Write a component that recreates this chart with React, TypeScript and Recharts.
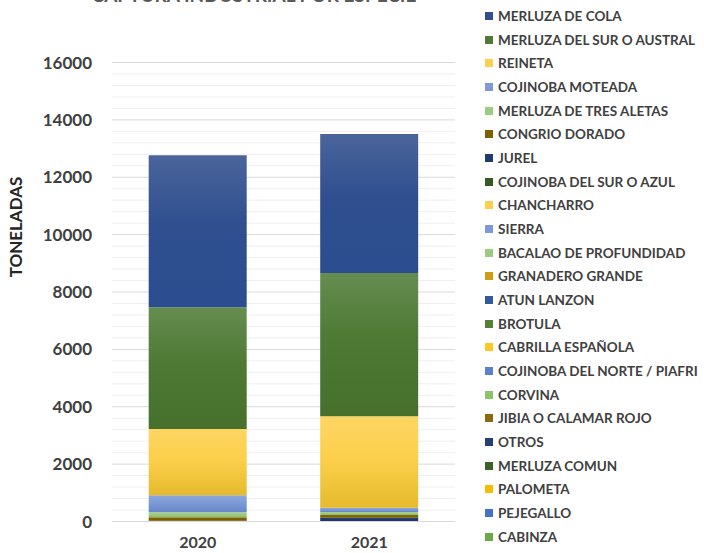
import { BarChart, Bar, XAxis, YAxis, CartesianGrid, Customized } from "recharts"

// series listed bottom of the stack -> top of the stack
const species = [
  "CABINZA",
  "PEJEGALLO",
  "PALOMETA",
  "MERLUZA COMUN",
  "OTROS",
  "JIBIA O CALAMAR ROJO",
  "CORVINA",
  "COJINOBA DEL NORTE / PIAFRI",
  "CABRILLA ESPAÑOLA",
  "BROTULA",
  "ATUN LANZON",
  "GRANADERO GRANDE",
  "BACALAO DE PROFUNDIDAD",
  "SIERRA",
  "CHANCHARRO",
  "COJINOBA DEL SUR O AZUL",
  "JUREL",
  "CONGRIO DORADO",
  "MERLUZA DE TRES ALETAS",
  "COJINOBA MOTEADA",
  "REINETA",
  "MERLUZA DEL SUR O AUSTRAL",
  "MERLUZA DE COLA",
]

const years = ["2020", "2021"]

const catch2020 = [0.1, 0.1, 0.1, 0.2, 1, 0.2, 0.3, 0.5, 0.5, 1, 1, 1, 2, 2, 3, 5, 6, 125, 175, 592, 2311, 4242, 5298]
const catch2021 = [0.2, 0.2, 0.3, 0.5, 1, 0.5, 0.8, 1, 1, 1.5, 1, 1, 1, 1, 1, 1, 120, 95, 105, 150, 3186, 4995, 4844]

const yTicks = [0, 2000, 4000, 6000, 8000, 10000, 12000, 14000, 16000]
const minorStep = 400

// [top, bottom, legend] colours, same order as species
const colors: [string, string, string][] = [
  ["#86c263", "#6aaa45", "#6aaa45"],
  ["#5a83d2", "#4472c4", "#4472c4"],
  ["#ffcb2a", "#f0b800", "#f5bd00"],
  ["#46702f", "#365e22", "#3b6326"],
  ["#2d4e87", "#213e70", "#263f78"],
  ["#9c7c20", "#84640a", "#8a6a10"],
  ["#9bd07b", "#7cbb56", "#8cc46a"],
  ["#7296da", "#4c74c6", "#5b82cf"],
  ["#ffd23a", "#f0be12", "#fcc824"],
  ["#5e8e3e", "#4e7e30", "#548235"],
  ["#3e62aa", "#2f5597", "#34599d"],
  ["#dba624", "#c59200", "#cf9c12"],
  ["#acd392", "#8cc06a", "#9bcb7e"],
  ["#8ca8dd", "#6686c8", "#7d9ad6"],
  ["#fdd562", "#e6ba2c", "#fcd04c"],
  ["#416629", "#33561f", "#375a24"],
  ["#28437c", "#1c3566", "#213a6e"],
  ["#8c6b12", "#785800", "#7f6000"],
  ["#abd290", "#8cc06a", "#9bcb7e"],
  ["#8ca8dd", "#6686c8", "#7d9ad6"],
  ["#fdd562", "#e6ba2c", "#fcd04c"],
  ["#668d50", "#46702b", "#4e7a35"],
  ["#4b659b", "#2b4d8f", "#2f4f8f"],
]

const data = years.map((year, i) => {
  const row: Record<string, string | number> = { year }
  const vals = i === 0 ? catch2020 : catch2021
  species.forEach((_, j) => {
    row[`s${j}`] = vals[j]
  })
  return row
})

const minorTicks: number[] = []
for (let v = minorStep; v < 16000; v += minorStep) {
  if (v % 2000 !== 0) minorTicks.push(v)
}

const font = "Lato, 'Open Sans', sans-serif"
const tickStyle = { fill: "#404040", fontSize: 17, fontWeight: 700, fontFamily: font }
const xTickStyle = { ...tickStyle, fontSize: 16 }

function Title() {
  return (
    <text x={254} y={2} textAnchor="middle" fill="#595959" fontSize={19} fontWeight={700} fontFamily={font}>
      CAPTURA INDUSTRIAL POR ESPECIE
    </text>
  )
}

function AxisTitle() {
  return (
    <text
      x={0}
      y={0}
      transform="translate(22, 227) rotate(-90)"
      textAnchor="middle"
      fill="#262626"
      fontSize={17}
      fontWeight={700}
      fontFamily={font}
    >
      TONELADAS
    </text>
  )
}

export default function App() {
  const legendItems = species.map((name, i) => ({ name, color: colors[i][2] })).reverse()
  return (
    <div style={{ position: "absolute", left: 0, top: 0, width: 704, height: 553, background: "#fff" }}>
      <BarChart
        width={704}
        height={553}
        data={data}
        margin={{ top: 62.5, right: 249, left: 0, bottom: 7.5 }}
        barCategoryGap="21.4%"
      >
        <defs>
          {colors.map((c, i) => (
            <linearGradient key={i} id={`g${i}`} x1="0" y1="0" x2="0" y2="1">
              <stop offset="0%" stopColor={c[0]} />
              <stop offset="45%" stopColor={c[2]} />
              <stop offset="100%" stopColor={c[1]} />
            </linearGradient>
          ))}
        </defs>
        <CartesianGrid vertical={false} horizontalValues={minorTicks} stroke="#efefef" />
        <CartesianGrid vertical={false} horizontalValues={yTicks} stroke="#d9d9d9" />
        <XAxis
          dataKey="year"
          height={24}
          tick={xTickStyle}
          tickLine={false}
          tickMargin={9}
          axisLine={{ stroke: "#d9d9d9" }}
        />
        <YAxis
          width={112}
          domain={[0, 16000]}
          ticks={yTicks}
          interval={0}
          tick={tickStyle}
          tickLine={false}
          tickMargin={14}
          axisLine={false}
        />
        {species.map((name, i) => (
          <Bar key={name} name={name} dataKey={`s${i}`} stackId="a" fill={`url(#g${i})`} isAnimationActive={false} />
        ))}
        <Customized component={Title} />
        <Customized component={AxisTitle} />
      </BarChart>
      <div style={{ position: "absolute", left: 485, top: 4 }}>
        {legendItems.map((item) => (
          <div
            key={item.name}
            style={{
              display: "flex",
              alignItems: "center",
              height: 23.68,
              fontFamily: font,
              fontWeight: 700,
              fontSize: 13.5,
              color: "#404040",
              whiteSpace: "nowrap",
            }}
          >
            <span style={{ width: 8, height: 8, background: item.color, marginRight: 5, display: "inline-block" }} />
            {item.name}
          </div>
        ))}
      </div>
    </div>
  )
}
